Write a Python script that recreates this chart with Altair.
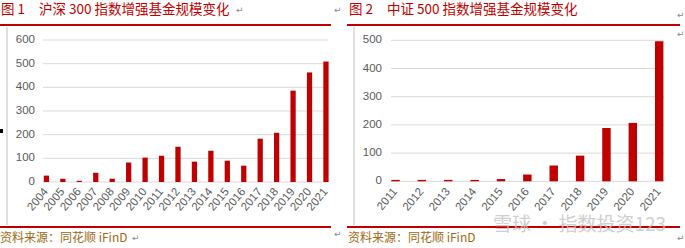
import altair as alt
import pandas as pd

# ---- data ----
hs300_years = ["2004", "2005", "2006", "2007", "2008", "2009", "2010", "2011", "2012",
               "2013", "2014", "2015", "2016", "2017", "2018", "2019", "2020", "2021"]
hs300_values = [27, 14, 5, 39, 14, 82, 103, 111, 149, 86, 132, 90, 69, 183, 208, 386, 463, 509]
hs300_ticks = [0, 100, 200, 300, 400, 500, 600]

zz500_years = ["2011", "2012", "2013", "2014", "2015", "2016", "2017", "2018", "2019", "2020", "2021"]
zz500_values = [5, 5, 5, 5, 8, 24, 56, 91, 189, 207, 497]
zz500_ticks = [0, 100, 200, 300, 400, 500]

title1_num = "图 1"
title1_text = "沪深 300 指数增强基金规模变化"
title2_num = "图 2"
title2_text = "中证 500 指数增强基金规模变化"
source_text = "资料来源：同花顺 iFinD"
watermark = "雪球 · 指数投资123"

RED = "#c00000"
GRID = "#d9d9d9"
LABEL = "#595959"
BROWN = "#9a6a12"
FONT = "Liberation Sans"
CJK = "Noto Sans CJK SC"

df1 = pd.DataFrame({"year": hs300_years, "value": hs300_values})
df2 = pd.DataFrame({"year": zz500_years, "value": zz500_values})
t1 = pd.DataFrame({"tick": hs300_ticks})
t2 = pd.DataFrame({"tick": zz500_ticks})
one = pd.DataFrame({"a": [0]})


def panel(df, ticks, years, ymax, xr, yr, grid_x, label_x, bar_pad):
    xs = alt.Scale(type="band", domain=years, range=xr, paddingInner=bar_pad, paddingOuter=0)
    ys = alt.Scale(domain=[0, ymax], range=yr, nice=False, zero=True)
    grid = alt.Chart(ticks).mark_rule(color=GRID, strokeWidth=1).encode(
        y=alt.Y("tick:Q", scale=ys, axis=None),
        x=alt.value(grid_x[0]), x2=alt.value(grid_x[1]),
    )
    ylab = alt.Chart(ticks).mark_text(align="right", baseline="middle", font=FONT,
                                      fontSize=11.5, color=LABEL).encode(
        y=alt.Y("tick:Q", scale=ys, axis=None),
        x=alt.value(label_x),
        text=alt.Text("tick:Q"),
    )
    bars = alt.Chart(df).mark_bar(color=RED).encode(
        x=alt.X("year:N", scale=xs, axis=None, sort=years),
        y=alt.Y("value:Q", scale=ys, axis=None),
    )
    xlab = alt.Chart(df).mark_text(angle=310, align="right", baseline="middle", font=FONT,
                                   fontSize=11.5, color=LABEL).encode(
        x=alt.X("year:N", scale=xs, axis=None, sort=years),
        y=alt.value(190),
        text="year:N",
    )
    return alt.layer(grid, bars, ylab, xlab)


left = panel(df1, t1, hs300_years, 600, [43.8, 328.6], [182, 40], (43, 328), 35, 0.68)
right = panel(df2, t2, zz500_years, 500, [391.3, 663.4], [181.3, 40.3], (391, 664), 382, 0.68)


def txt(s, x, y, color, size, font=CJK, align="left", baseline="middle", **kw):
    return alt.Chart(one).mark_text(text=s, align=align, baseline=baseline, font=font,
                                    fontSize=size, color=color, **kw).encode(
        x=alt.value(x), y=alt.value(y))


def hrule(x0, x1, y, color, w):
    return alt.Chart(one).mark_rule(color=color, strokeWidth=w).encode(
        x=alt.value(x0), x2=alt.value(x1), y=alt.value(y))


def vrule(x, y0, y1, color, w):
    return alt.Chart(one).mark_rule(color=color, strokeWidth=w).encode(
        x=alt.value(x), y=alt.value(y0), y2=alt.value(y1))


decor = [
    vrule(7, 27, 225, "#bfbfbf", 1),
    vrule(354, 27, 225, "#bfbfbf", 1),
    hrule(0, 331, 25, RED, 2),
    hrule(347, 680, 25, RED, 2),
    hrule(0, 331, 227, RED, 2),
    hrule(347, 680, 227, RED, 2),
    txt(title1_num, 1, 14, RED, 13.5, baseline="alphabetic"),
    txt(title1_text, 39, 14, RED, 13.5, baseline="alphabetic"),
    txt(title2_num, 349, 14, RED, 13.5, baseline="alphabetic"),
    txt(title2_text, 387, 14, RED, 13.5, baseline="alphabetic"),
    txt(source_text, 0, 238, BROWN, 12),
    txt(source_text, 348, 238, BROWN, 12),
    txt(watermark, 493, 225, "#c4c4c4", 19, opacity=0.8),
    txt("↵", 236, 10, "#888888", 9, font="DejaVu Sans"),
    txt("↵", 334, 10, "#888888", 9, font="DejaVu Sans"),
    txt("↵", 677, 15, "#888888", 9, font="DejaVu Sans"),
    txt("↵", 677, 34, "#888888", 9, font="DejaVu Sans"),
    txt("↵", 132, 238, "#888888", 9, font="DejaVu Sans"),
    txt("↵", 334, 234, "#888888", 9, font="DejaVu Sans"),
    txt("↵", 677, 238, "#888888", 9, font="DejaVu Sans"),
    alt.Chart(one).mark_rect(color="black").encode(
        x=alt.value(0), x2=alt.value(3), y=alt.value(129), y2=alt.value(133)),
]

chart = alt.layer(left, right, *decor).resolve_scale(
    x="independent", y="independent"
).properties(
    width=685, height=248,
    autosize=alt.AutoSizeParams(type="none"),
    padding=0,
    background="white",
).configure_view(stroke=None)

chart.save("out.html", embed_options={"renderer": "svg", "actions": False})
